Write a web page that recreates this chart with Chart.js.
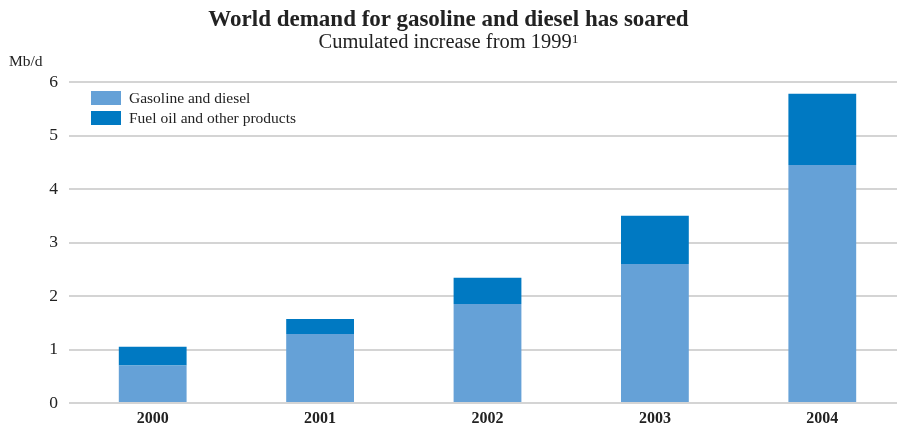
<!DOCTYPE html>
<html>
<head>
<meta charset="utf-8">
<script src="https://cdn.jsdelivr.net/npm/chart.js@4/dist/chart.umd.min.js"></script>
<style>
  html, body { margin: 0; padding: 0; width: 897px; height: 427px; overflow: hidden; background: #fff; }
  #wrap { position: absolute; left: 0; top: 0; width: 910px; height: 427px; }
  .txt { position: absolute; font-family: "Liberation Serif", "Times New Roman", serif; color: #222; white-space: nowrap; }
  #title { left: 0; width: 897px; text-align: center; top: 7px; font-size: 23px; line-height: 23px; font-weight: bold; }
  #subtitle { left: 0; width: 897px; text-align: center; top: 31px; font-size: 20.5px; line-height: 20.5px; }
  #subtitle .sup { font-size: 13.5px; position: relative; top: -5px; }
  #unit { left: 9px; top: 53px; font-size: 15.5px; line-height: 15.5px; }
</style>
</head>
<body>
<div id="wrap"><canvas id="c" width="910" height="427"></canvas></div>
<div class="txt" id="title">World demand for gasoline and diesel has soared</div>
<div class="txt" id="subtitle">Cumulated increase from 1999<span class="sup">1</span></div>
<div class="txt" id="unit">Mb/d</div>
<script>
const years = ['2000', '2001', '2002', '2003', '2004'];
const gasolineDiesel = [0.70, 1.29, 1.85, 2.60, 4.45];
const fuelOilOther = [0.35, 0.28, 0.49, 0.90, 1.33];
const seriesNames = ['Gasoline and diesel', 'Fuel oil and other products'];
const seriesColors = ['#65A1D7', '#0079C2'];
const yMin = 0, yMax = 6, yStep = 1;

const serif = '"Liberation Serif", "Times New Roman", serif';

const legendPlugin = {
  id: 'insideLegend',
  afterDraw(chart) {
    const ctx = chart.ctx;
    ctx.save();
    ctx.font = '15.5px ' + serif;
    ctx.textBaseline = 'middle';
    chart.data.datasets.forEach((ds, i) => {
      const y = 91 + i * 20;
      ctx.fillStyle = ds.backgroundColor;
      ctx.fillRect(91, y, 30, 14);
      ctx.fillStyle = '#222';
      ctx.fillText(ds.label, 129, y + 7.5);
    });
    ctx.restore();
  }
};

new Chart(document.getElementById('c'), {
  type: 'bar',
  data: {
    labels: years,
    datasets: [
      { label: seriesNames[0], data: gasolineDiesel, backgroundColor: seriesColors[0] },
      { label: seriesNames[1], data: fuelOilOther, backgroundColor: seriesColors[1] }
    ]
  },
  options: {
    responsive: false,
    animation: false,
    devicePixelRatio: 1,
    layout: { padding: { top: 82, right: 4, left: 0, bottom: 0 } },
    plugins: { legend: { display: false }, tooltip: { enabled: false }, title: { display: false } },
    datasets: { bar: { barPercentage: 0.405, categoryPercentage: 1 } },
    scales: {
      x: {
        stacked: true,
        grid: { display: false },
        border: { display: false },
        ticks: { color: '#222', font: { family: serif, size: 16, weight: 'bold' }, padding: -2 },
        afterFit(s) { s.height = 24; }
      },
      y: {
        stacked: true,
        min: yMin, max: yMax,
        ticks: { stepSize: yStep, color: '#222', font: { family: serif, size: 17.5 }, padding: 11 },
        grid: { color: '#d4d4d4', lineWidth: 2, drawTicks: false },
        border: { display: false },
        afterFit(s) { s.width = 69; }
      }
    }
  },
  plugins: [legendPlugin]
});
</script>
</body>
</html>
